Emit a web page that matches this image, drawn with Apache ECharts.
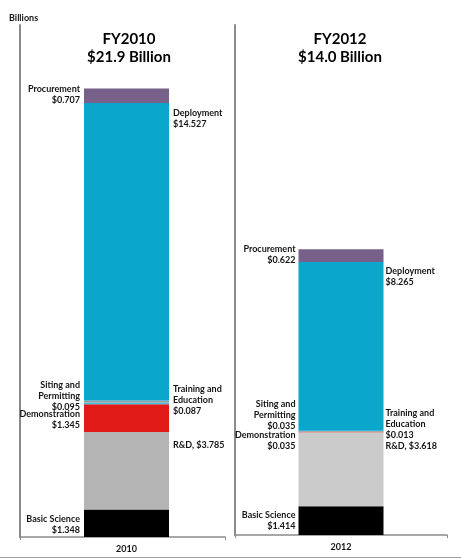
<!DOCTYPE html>
<html>
<head>
<meta charset="utf-8">
<script src="https://cdn.jsdelivr.net/npm/echarts@6/dist/echarts.min.js"></script>
<style>
  html, body { margin: 0; padding: 0; background: #fff; }
  #chart { width: 461px; height: 559px; }
</style>
</head>
<body>
<div id="chart"></div>
<script>
// stack order, bottom to top
const segments = ['Basic Science', 'R&D', 'Demonstration', 'Siting and Permitting', 'Training and Education', 'Deployment', 'Procurement'];
const years = ['2010', '2012'];
const titles = ['FY2010\n$21.9 Billion', 'FY2012\n$14.0 Billion'];
const values2010 = [1.348, 3.785, 1.345, 0.095, 0.087, 14.527, 0.707];
const values2012 = [1.414, 3.618, 0.035, 0.035, 0.013, 8.265, 0.622];
const labels2010 = ['Basic Science\n$1.348', 'R&D, $3.785', 'Demonstration\n$1.345', 'Siting and\nPermitting\n$0.095', 'Training and\nEducation\n$0.087', 'Deployment\n$14.527', 'Procurement\n$0.707'];
const labels2012 = ['Basic Science\n$1.414', 'R&D, $3.618', 'Demonstration\n$0.035', 'Siting and\nPermitting\n$0.035', 'Training and\nEducation\n$0.013', 'Deployment\n$8.265', 'Procurement\n$0.622'];

const colors2010 = ['#000000', '#b4b4b4', '#e01b17', '#3fc1de', '#8e9ea4', '#0aa6cb', '#77618b'];
const colors2012 = ['#000000', '#cbcbcb', '#e01b17', '#8e9ea4', '#3fc1de', '#0aa6cb', '#77618b'];

// label placement per segment: [side, anchor, dy]
const place2010 = [['left', 'mid', 1], ['right', 'top', 8], ['left', 'mid', 1.5], ['left', 'mid', -7], ['right', 'mid', -1], ['right', 'top', 5], ['left', 'mid', -1.5]];
const place2012 = [['left', 'mid', 0], ['right', 'top', 8], ['left', 'mid', 8.5], ['left', 'mid', -16], ['right', 'mid', -6.5], ['right', 'top', 4], ['left', 'mid', -1.5]];

const FONT = 'Lato, "Open Sans", sans-serif';
const labelFont = { fontFamily: FONT, fontWeight: 'bold', fontSize: 9, lineHeight: 11, color: '#141414' };

function makeLabel(text, p, dist) {
  let side = p[0], anchor = p[1], dy = p[2];
  if (anchor === 'top') {
    return Object.assign({
      show: true, formatter: text,
      position: ['100%', 0], offset: [dist[1], dy],
      align: 'left', verticalAlign: 'top'
    }, labelFont);
  }
  return Object.assign({
    show: true, formatter: text,
    position: side, distance: side === 'left' ? dist[0] : dist[1],
    offset: [0, dy],
    align: side === 'left' ? 'right' : 'left'
  }, labelFont);
}

// grids 0,1 carry the visible axis lines; grids 2,3 carry the bars + year labels
let series = [];
const panels = [
  { vals: values2010, labels: labels2010, cols: colors2010, place: place2010, dist: [4, 4] },
  { vals: values2012, labels: labels2012, cols: colors2012, place: place2012, dist: [3, 2] }
];
panels.forEach((pn, gi) => {
  segments.forEach((name, i) => {
    series.push({
      name: name,
      type: 'bar',
      xAxisIndex: gi + 2,
      yAxisIndex: gi + 2,
      stack: 'panel' + gi,
      barWidth: 85,
      itemStyle: { color: pn.cols[i] },
      label: makeLabel(pn.labels[i], pn.place[i], pn.dist),
      data: [pn.vals[i]]
    });
  });
});

const axisGray = '#8a8a8a';
function lineXAxis(gi) {
  return {
    type: 'category', gridIndex: gi, data: [''],
    axisLine: { lineStyle: { color: axisGray, width: 1.5 } },
    axisTick: { show: true, length: 3, lineStyle: { color: axisGray } },
    axisLabel: { show: false }
  };
}
function barXAxis(gi, yi) {
  return {
    type: 'category', gridIndex: gi, data: [years[yi]],
    axisLine: { show: false }, axisTick: { show: false },
    axisLabel: { margin: 8, fontFamily: FONT, fontWeight: 'bold', fontSize: 9, color: '#141414' }
  };
}
function yAxisFor(gi, visible) {
  return {
    type: 'value', gridIndex: gi, min: 0, max: 25,
    axisLine: { show: visible, lineStyle: { color: axisGray, width: 2 } },
    axisTick: { show: false }, axisLabel: { show: false }, splitLine: { show: false }
  };
}

const chart = echarts.init(document.getElementById('chart'));
chart.setOption({
  animation: false,
  title: [
    { text: 'Billions', left: 4, top: 9, textStyle: { fontFamily: FONT, fontWeight: 'bold', fontSize: 9, color: '#141414' } },
    { text: titles[0], left: 124, top: 25, textAlign: 'center', textStyle: { fontFamily: FONT, fontWeight: 'bold', fontSize: 15, lineHeight: 18, color: '#000' } },
    { text: titles[1], left: 335, top: 25, textAlign: 'center', textStyle: { fontFamily: FONT, fontWeight: 'bold', fontSize: 15, lineHeight: 18, color: '#000' } }
  ],
  grid: [
    { left: 20, top: 25, width: 205, height: 512 },
    { left: 235, top: 25, width: 212, height: 510 },
    { left: 24, top: 25, width: 205, height: 512 },
    { left: 235, top: 25, width: 212, height: 510 }
  ],
  xAxis: [lineXAxis(0), lineXAxis(1), barXAxis(2, 0), barXAxis(3, 1)],
  yAxis: [yAxisFor(0, true), yAxisFor(1, true), yAxisFor(2, false), yAxisFor(3, false)],
  series: series,
  graphic: [
    { type: 'line', shape: { x1: 0, y1: 557.5, x2: 461, y2: 557.5 }, style: { stroke: '#a0a0a0', lineWidth: 1 } }
  ]
});
</script>
</body>
</html>
